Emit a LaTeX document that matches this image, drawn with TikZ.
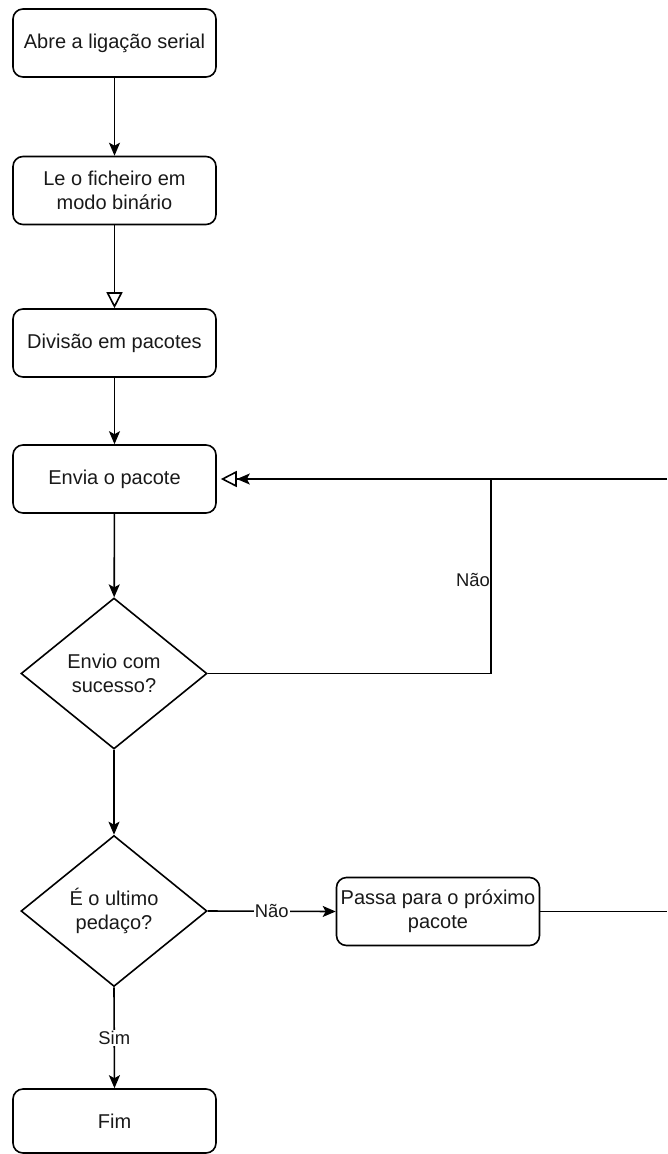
\documentclass[tikz,border=0pt]{standalone}
\usepackage{fontspec}
\setmainfont{Liberation Sans}
\usetikzlibrary{shapes.geometric,arrows.meta}

\tikzset{
  every picture/.style={line join=miter},
  proc/.style={draw=black, line width=1.6pt, rounded corners=10pt,
    minimum width=203pt, minimum height=68pt, inner sep=2pt, align=center,
    text=black!90, font=\fontsize{20}{24}\selectfont},
  decision/.style={draw=black, line width=1.6pt, diamond,
    minimum width=186pt, minimum height=151pt, inner sep=0pt, align=center,
    text=black!90, font=\fontsize{20}{24}\selectfont},
  lbl/.style={text=black!90, font=\fontsize{18.4}{22}\selectfont, inner sep=1pt},
  flow/.style={line width=1.6pt, -{Stealth[length=13pt,width=11pt,inset=3pt]}},
  hollow/.style={line width=1.6pt, -{Triangle[open,length=16pt,width=16pt]}},
  plain/.style={line width=1.6pt}
}

\begin{document}
\begin{tikzpicture}[x=1pt,y=-1pt]
  \useasboundingbox (0,0) rectangle (667,1154);

  % process steps
  \node[proc] (abre)   at (114.5,43)    {Abre a ligação serial};
  \node[proc] (le)     at (114.5,190.5) {Le o ficheiro em\\modo binário};
  \node[proc] (div)    at (114.5,343)   {Divisão em pacotes};
  \node[proc] (envia)  at (114.5,479)   {Envia o pacote};
  \node[decision] (ok) at (114,673.5)   {Envio com\\sucesso?};
  \node[decision] (last) at (114,911)   {É o ultimo\\pedaço?};
  \node[proc] (passa)  at (438,911.5)   {Passa para o próximo\\pacote};
  \node[proc, minimum height=64pt] (fim) at (114.5,1121) {Fim};

  % loop corners and page-edge ends
  \coordinate (loopA) at (491,673.5);
  \coordinate (loopB) at (491,479);
  \coordinate (edgeTop) at (667,479);
  \coordinate (edgeBot) at (667,911.5);

  % main flow
  \draw[flow]   (abre) -- (le);
  \draw[hollow] (le) -- (div);
  \draw[flow]   (div) -- (envia);
  \draw[flow]   (envia) -- (ok);
  \draw[flow]   (ok) -- (last);

  % retry loop
  \draw[hollow, shorten >=4pt] (ok.east) -- (loopA) -- (loopB) -- (envia.east);
  \node[lbl, anchor=east] (nao1) at (491,580) {Não};

  % next packet
  \draw[plain] (passa.east) -- (edgeBot);
  \draw[flow, shorten >=20pt] (edgeTop) -- (envia.east);

  \draw[flow] (last.east) -- node[lbl, fill=white] (nao2) {Não} (passa.west);
  \draw[flow] (last.south) -- node[lbl, fill=white, pos=0.5] (sim) {Sim} (fim.north);
\end{tikzpicture}
\end{document}
